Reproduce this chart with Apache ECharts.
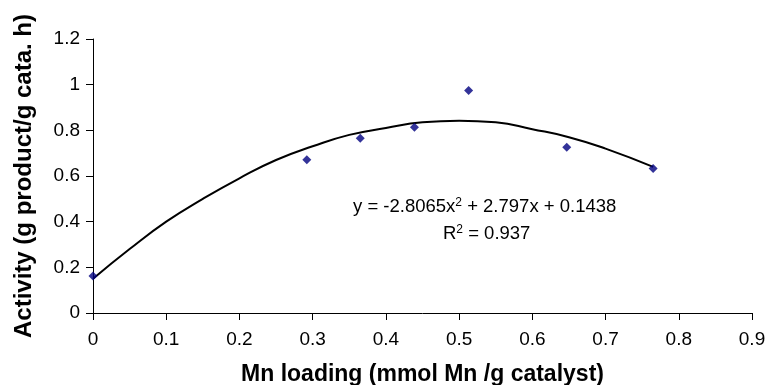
<!DOCTYPE html>
<html>
<head>
<meta charset="utf-8">
<script src="https://cdn.jsdelivr.net/npm/echarts@6/dist/echarts.min.js"></script>
<style>
  html, body { margin: 0; padding: 0; background: #fff; }
  #chart { width: 768px; height: 385px; }
</style>
</head>
<body>
<div id="chart"></div>
<script>
// measured points (Mn loading, activity)
const mnLoading = [0, 0.292, 0.365, 0.439, 0.513, 0.647, 0.765];
const activity = [0.162, 0.671, 0.765, 0.814, 0.975, 0.726, 0.633];

// trend line
const trendX = [0, 0.05, 0.1, 0.15, 0.2, 0.25, 0.3, 0.35, 0.4, 0.45, 0.5, 0.55, 0.6, 0.65, 0.7, 0.765];
const trendY = [0.15, 0.28, 0.40, 0.50, 0.59, 0.67, 0.73, 0.78, 0.81, 0.835, 0.842, 0.835, 0.805, 0.77, 0.72, 0.64];

const xTicks = { min: 0, max: 0.9, interval: 0.1 };
const yTicks = { min: 0, max: 1.2, interval: 0.2 };

const FONT = "Liberation Sans, Arial, sans-serif";

const chart = echarts.init(document.getElementById("chart"));

const option = {
  animation: false,
  grid: { left: 93, right: 16, top: 39, bottom: 72, outerBoundsMode: "none" },
  xAxis: {
    type: "value",
    min: xTicks.min,
    max: xTicks.max,
    interval: xTicks.interval,
    name: "Mn loading (mmol Mn /g catalyst)",
    nameLocation: "middle",
    nameGap: 50,
    nameTextStyle: { fontFamily: FONT, fontSize: 23, fontWeight: "bold", color: "#000" },
    axisLine: { lineStyle: { color: "#000", width: 1 } },
    axisTick: { show: true, length: 7, lineStyle: { color: "#000" } },
    axisLabel: { fontFamily: FONT, fontSize: 19, color: "#000", margin: 17 },
    splitLine: { show: false },
  },
  yAxis: {
    type: "value",
    min: yTicks.min,
    max: yTicks.max,
    interval: yTicks.interval,
    name: "Activity (g product/g cata. h)",
    nameLocation: "middle",
    nameGap: 57,
    nameTextStyle: { fontFamily: FONT, fontSize: 24, fontWeight: "bold", color: "#000" },
    axisLine: { show: true, lineStyle: { color: "#000", width: 1 } },
    axisTick: { show: true, length: 7, lineStyle: { color: "#000" } },
    axisLabel: { fontFamily: FONT, fontSize: 19, color: "#000", margin: 13 },
    splitLine: { show: false },
  },
  graphic: [
    {
      type: "text",
      left: 353,
      top: 197,
      style: {
        text: "y = -2.8065x{sup|2} + 2.797x + 0.1438",
        font: "18.5px " + FONT,
        fill: "#000",
        rich: { sup: { fontSize: 12, padding: [0, 0, 8, 0] } },
      },
    },
    {
      type: "text",
      left: 443,
      top: 224,
      style: {
        text: "R{sup|2} = 0.937",
        font: "18.5px " + FONT,
        fill: "#000",
        rich: { sup: { fontSize: 12, padding: [0, 0, 8, 0] } },
      },
    },
  ],
  series: [
    {
      type: "line",
      data: trendX.map((x, i) => [x, trendY[i]]),
      smooth: true,
      showSymbol: false,
      lineStyle: { color: "#000", width: 2 },
      z: 2,
    },
    {
      type: "scatter",
      data: mnLoading.map((x, i) => [x, activity[i]]),
      symbol: "diamond",
      symbolSize: 9,
      itemStyle: { color: "#000080" },
      z: 3,
    },
  ],
};

chart.setOption(option);
</script>
</body>
</html>
